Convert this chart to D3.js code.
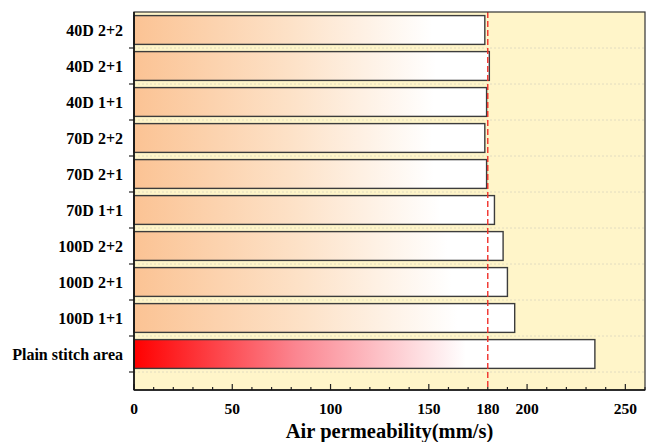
<!DOCTYPE html>
<html>
<head>
<meta charset="utf-8">
<script src="https://cdn.jsdelivr.net/npm/d3@7"></script>
<style>
  body { margin: 0; background: #fff; }
  text { font-family: "Liberation Serif", "Times New Roman", serif; font-weight: bold; }
</style>
</head>
<body>
<div id="chart"></div>
<script>
// categories top to bottom
const categories = ["40D 2+2", "40D 2+1", "40D 1+1", "70D 2+2", "70D 2+1", "70D 1+1",
                    "100D 2+2", "100D 2+1", "100D 1+1", "Plain stitch area"];
const values = [178.5, 180.8, 179.4, 178.5, 179.4, 183.4, 187.8, 190.0, 193.7, 234.5];
const refLine = 180;
const xTickLabels = [0, 50, 100, 150, 180, 200, 250];

const width = 647, height = 442;
const margin = {top: 12, right: 1, bottom: 52, left: 134};
const plotBottom = height - margin.bottom; // 390

const svg = d3.select("#chart").append("svg")
  .attr("width", width)
  .attr("height", height);

const defs = svg.append("defs");
const peach = defs.append("linearGradient").attr("id", "gPeach");
peach.append("stop").attr("offset", "0%").attr("stop-color", "#fbc394");
peach.append("stop").attr("offset", "45%").attr("stop-color", "#fde2c8");
peach.append("stop").attr("offset", "85%").attr("stop-color", "#ffffff");
const red = defs.append("linearGradient").attr("id", "gRed");
red.append("stop").attr("offset", "0%").attr("stop-color", "#ff0000");
red.append("stop").attr("offset", "35%").attr("stop-color", "#fb8590");
red.append("stop").attr("offset", "72%").attr("stop-color", "#ffffff");

// scales
const x = d3.scaleLinear().domain([0, 260]).range([margin.left, width - margin.right - 1]);
const y = d3.scaleBand().domain(categories).range([margin.top, 372]).paddingInner(0.2).paddingOuter(0.1);
const step = y.step();

// background
svg.append("rect")
  .attr("x", margin.left).attr("y", margin.top)
  .attr("width", x(260) - margin.left).attr("height", plotBottom - margin.top)
  .attr("fill", "#fff5c9");

// dotted grid lines at band boundaries
const bounds = d3.range(1, categories.length + 1).map(i => margin.top + i * step);
svg.append("g").selectAll("line").data(bounds).enter().append("line")
  .attr("x1", margin.left).attr("x2", x(260))
  .attr("y1", d => d).attr("y2", d => d)
  .attr("stroke", "#e2dcc0").attr("stroke-width", 1)
  .attr("stroke-dasharray", "2,2");

// bars
svg.append("g").selectAll("rect").data(categories).enter().append("rect")
  .attr("x", x(0))
  .attr("y", d => y(d))
  .attr("width", (d, i) => x(values[i]) - x(0))
  .attr("height", y.bandwidth())
  .attr("fill", (d, i) => i === categories.length - 1 ? "url(#gRed)" : "url(#gPeach)")
  .attr("stroke", "#3c3c3c")
  .attr("stroke-width", 1.4);

// reference line at 180
svg.append("line")
  .attr("x1", x(refLine)).attr("x2", x(refLine))
  .attr("y1", margin.top).attr("y2", plotBottom)
  .attr("stroke", "#f0302a").attr("stroke-width", 1.4)
  .attr("stroke-dasharray", "6,3");

// x axis: minor ticks every 10, major every 50, pointing inward
const minor = d3.range(0, 261, 10);
const gx = svg.append("g");
gx.selectAll("line").data(minor).enter().append("line")
  .attr("x1", d => x(d)).attr("x2", d => x(d))
  .attr("y1", plotBottom)
  .attr("y2", d => plotBottom - (d % 50 === 0 ? 6 : 3))
  .attr("stroke", "#222").attr("stroke-width", 1.2);
gx.selectAll("text").data(xTickLabels).enter().append("text")
  .attr("x", d => x(d)).attr("y", 414)
  .attr("text-anchor", "middle")
  .attr("font-size", 15.5)
  .text(d => d);

// y axis ticks at band boundaries, pointing outward
const gy = svg.append("g");
gy.selectAll("line").data(bounds).enter().append("line")
  .attr("x1", margin.left - 5).attr("x2", margin.left)
  .attr("y1", d => d).attr("y2", d => d)
  .attr("stroke", "#222").attr("stroke-width", 1.2);
gy.selectAll("text").data(categories).enter().append("text")
  .attr("x", 123)
  .attr("y", d => y(d) + y.bandwidth() / 2)
  .attr("dy", "0.35em")
  .attr("text-anchor", "end")
  .attr("font-size", 16)
  .text(d => d);

// frame
svg.append("rect")
  .attr("x", margin.left).attr("y", margin.top)
  .attr("width", x(260) - margin.left).attr("height", plotBottom - margin.top)
  .attr("fill", "none").attr("stroke", "#333").attr("stroke-width", 1.2);
svg.append("line")
  .attr("x1", margin.left).attr("x2", margin.left)
  .attr("y1", margin.top).attr("y2", plotBottom)
  .attr("stroke", "#111").attr("stroke-width", 1.6);
svg.append("line")
  .attr("x1", margin.left).attr("x2", x(260))
  .attr("y1", plotBottom).attr("y2", plotBottom)
  .attr("stroke", "#111").attr("stroke-width", 1.6);

// axis title
svg.append("text")
  .attr("x", (margin.left + x(260)) / 2)
  .attr("y", 438)
  .attr("text-anchor", "middle")
  .attr("font-size", 20.5)
  .text("Air permeability(mm/s)");
</script>
</body>
</html>
